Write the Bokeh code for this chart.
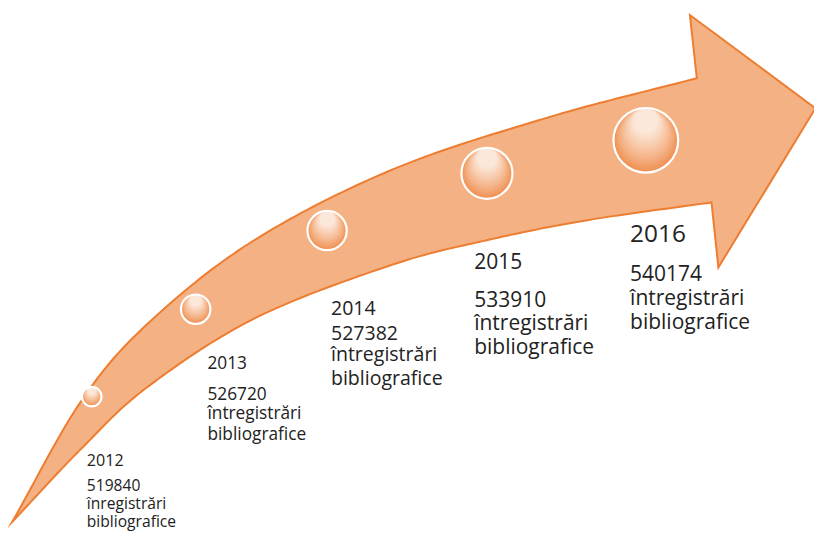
import numpy as np
from bokeh.plotting import figure
from bokeh.models import Range1d, ColumnDataSource
from bokeh.embed import file_html
from bokeh.resources import INLINE
from bokeh.core.properties import value

# ---------------- data ----------------
years = ["2012", "2013", "2014", "2015", "2016"]
records = [519840, 526720, 527382, 533910, 540174]
word1 = ["înregistrări", "întregistrări", "întregistrări", "întregistrări", "întregistrări"]
word2 = ["bibliografice", "bibliografice", "bibliografice", "bibliografice", "bibliografice"]

# ---------------- layout (reference pixel coordinates) ----------------
bubble_x = [93, 199, 333, 496, 658]
bubble_y = [408, 318, 237, 178, 144]
bubble_r = [10, 15, 20, 26, 33]

label_x = [88, 211, 337, 483, 642]
year_base = [473, 373, 317, 268, 240]
year_size = [16.5, 17.7, 20, 21.5, 25]
value_base = [499, 405, 342, 307, 281]
word1_base = [518, 424, 364, 331, 305]
word2_base = [536, 446, 388, 356, 330]
text_size = [16, 17.7, 20, 21.5, 21.5]

# arrow outline
upper_x = [12, 82, 150, 257, 400, 560, 710]
upper_y = [537, 413, 333, 248, 174, 120, 80]
lower_x = [12, 83, 150, 260, 400, 500, 600, 725]
lower_y = [537, 461, 398, 327, 272, 246, 226, 208]
head_x = [703, 831, 732]
head_y = [15, 111, 275]

ARROW_FILL = "#F4B183"
ARROW_LINE = "#ED7D31"
TEXT_COLOR = "#222222"
FONT = "Open Sans"

W, H = 814, 532
S = (W / 830 + H / 548) / 2   # font scale to match the data->pixel scale


def catmull(xs, ys, n=24):
    pts = np.column_stack([xs, ys]).astype(float)
    P = np.vstack([2 * pts[0] - pts[1], pts, 2 * pts[-1] - pts[-2]])
    out = []
    for i in range(1, len(P) - 2):
        p0, p1, p2, p3 = P[i - 1], P[i], P[i + 1], P[i + 2]
        for t in np.linspace(0, 1, n, endpoint=False):
            t2, t3 = t * t, t * t * t
            out.append(0.5 * ((2 * p1) + (-p0 + p2) * t + (2 * p0 - 5 * p1 + 4 * p2 - p3) * t2
                              + (-p0 + 3 * p1 - 3 * p2 + p3) * t3))
    out.append(P[-2])
    return np.array(out)


up = catmull(upper_x, upper_y)
lo = catmull(lower_x, lower_y)[::-1]
ax = np.concatenate([up[:, 0], head_x, lo[:, 0]])
ay = np.concatenate([up[:, 1], head_y, lo[:, 1]])

p = figure(width=W, height=H, x_range=Range1d(0, 830), y_range=Range1d(548, 0),
           output_backend="svg", toolbar_location=None, min_border=0)
p.axis.visible = False
p.grid.visible = False
p.outline_line_color = None
p.background_fill_color = "white"
p.border_fill_color = "white"

p.patch(ax, ay, fill_color=ARROW_FILL, line_color=ARROW_LINE, line_width=2, line_join="miter")

# bubbles with a simulated vertical gradient
K = 16
c_bot = np.array([239, 143, 80])
c_top = np.array([252, 232, 218])
gx, gy, gr, gc = [], [], [], []
for bx, by, br in zip(bubble_x, bubble_y, bubble_r):
    for i in range(K):
        t = i / (K - 1)
        ri = br * (1 - 0.62 * t)
        cy = by - (br - ri) * 0.97
        col = c_bot + (c_top - c_bot) * (t ** 0.85)
        gx.append(bx)
        gy.append(cy)
        gr.append(ri)
        gc.append("#%02x%02x%02x" % tuple(int(round(v)) for v in col))
p.circle(x=gx, y=gy, radius=gr, fill_color=gc, line_color=None)
p.circle(x=bubble_x, y=bubble_y, radius=bubble_r, fill_color=None,
         line_color="white", line_width=2.2)

# labels
for i in range(len(years)):
    src_year = ColumnDataSource(dict(x=[label_x[i]], y=[year_base[i]], t=[years[i]]))
    p.text(x="x", y="y", text="t", source=src_year, text_font=value(FONT),
           text_font_size=f"{year_size[i] * S:.2f}px", text_color=TEXT_COLOR,
           text_baseline="alphabetic", text_align="left")
    src_body = ColumnDataSource(dict(
        x=[label_x[i]] * 3,
        y=[value_base[i], word1_base[i], word2_base[i]],
        t=[str(records[i]), word1[i], word2[i]]))
    p.text(x="x", y="y", text="t", source=src_body, text_font=value(FONT),
           text_font_size=f"{text_size[i] * S:.2f}px", text_color=TEXT_COLOR,
           text_baseline="alphabetic", text_align="left")

open("out.html", "w").write(file_html(p, INLINE))
